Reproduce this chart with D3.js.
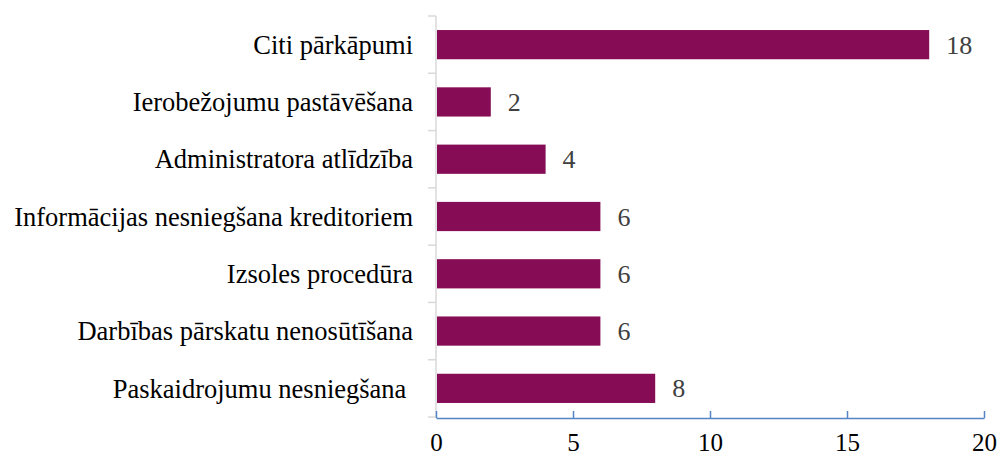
<!DOCTYPE html>
<html>
<head>
<meta charset="utf-8">
<script src="https://cdn.jsdelivr.net/npm/d3@7"></script>
<style>
  body { margin: 0; background: #fff; }
  text { font-family: "Times New Roman", "Liberation Serif", serif; }
</style>
</head>
<body>
<div id="chart"></div>
<script>
var categories = ["Citi pārkāpumi", "Ierobežojumu pastāvēšana", "Administratora atlīdzība",
  "Informācijas nesniegšana kreditoriem", "Izsoles procedūra",
  "Darbības pārskatu nenosūtīšana", "Paskaidrojumu nesniegšana "];
var values = [18, 2, 4, 6, 6, 6, 8];
var xTicks = [0, 5, 10, 15, 20];

var width = 1000, height = 458;
var svg = d3.select("#chart").append("svg")
  .attr("width", width)
  .attr("height", height);

var x = d3.scaleLinear().domain([0, 20]).range([436, 984]);
var y = d3.scaleBand().domain(categories).range([16, 417]).paddingInner(0.49).paddingOuter(0.245);

// vertical gray axis with ticks at band edges
var edges = categories.map(function(c) { return y(c) - y.step() * y.paddingInner() / 2; });
edges.push(417);
svg.append("line")
  .attr("x1", 436).attr("x2", 436)
  .attr("y1", 16).attr("y2", 417)
  .attr("stroke", "#d9d9d9").attr("stroke-width", 1.5);
svg.selectAll(".ytick").data(edges).enter().append("line")
  .attr("x1", 428).attr("x2", 436)
  .attr("y1", function(d) { return d; }).attr("y2", function(d) { return d; })
  .attr("stroke", "#d9d9d9").attr("stroke-width", 1.5);

// bars
svg.selectAll(".bar").data(values).enter().append("rect")
  .attr("x", x(0) + 1)
  .attr("y", function(d, i) { return y(categories[i]); })
  .attr("width", function(d) { return x(d) - x(0) - 1; })
  .attr("height", y.bandwidth())
  .attr("fill", "#860c55");

// value labels
svg.selectAll(".val").data(values).enter().append("text")
  .attr("x", function(d) { return x(d) + 17; })
  .attr("y", function(d, i) { return y(categories[i]) + y.bandwidth() / 2; })
  .attr("dy", "0.35em")
  .attr("font-size", 26)
  .attr("fill", "#404040")
  .text(function(d) { return d; });

// category labels
svg.selectAll(".cat").data(categories).enter().append("text")
  .attr("x", 413)
  .attr("y", function(d) { return y(d) + y.bandwidth() / 2; })
  .attr("dy", "0.35em")
  .attr("text-anchor", "end")
  .attr("font-size", 26.5)
  .attr("fill", "#000")
  .style("white-space", "pre")
  .text(function(d) { return d; });

// x axis
var xAxis = svg.append("g").attr("transform", "translate(0,418)")
  .call(d3.axisBottom(x).tickValues(xTicks).tickSize(0).tickPadding(15));
xAxis.select(".domain").attr("stroke", "#5585c5").attr("stroke-width", 1.5);
xAxis.selectAll(".tick").append("line")
  .attr("y1", 0).attr("y2", -7)
  .attr("stroke", "#5585c5").attr("stroke-width", 1.5);
xAxis.selectAll(".tick text")
  .attr("font-size", 25)
  .attr("fill", "#000");
</script>
</body>
</html>
